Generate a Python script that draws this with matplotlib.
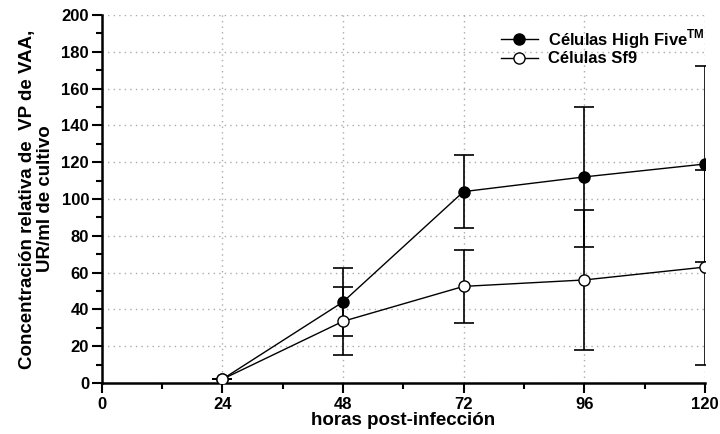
#! /usr/bin/env python3
'''
Concentración relativa de VP de VAA en células High Five y Sf9
'''

import matplotlib
matplotlib.use('Agg')
import matplotlib.pyplot as plt
from matplotlib.ticker import MultipleLocator

hours = [24, 48, 72, 96, 120]
high_five = [2, 44, 104, 112, 119]
high_five_err = [0, 18.5, 20, 38, 53]
sf9 = [2, 33.5, 52.5, 56, 63]
sf9_err = [0, 18.5, 20, 38, 53]
label_high_five = 'Células High Five$^{\\mathbf{TM}}$'
label_sf9 = 'Células Sf9'
xlabel = 'horas post-infección'
ylabel = 'Concentración relativa de  VP de VAA,\nUR/ml de cultivo'


def main():
    plt.rcParams['font.family'] = ['Liberation Sans', 'DejaVu Sans']
    plt.rcParams['font.weight'] = 'bold'
    plt.rcParams['mathtext.fontset'] = 'custom'
    plt.rcParams['mathtext.bf'] = 'Liberation Sans:bold'
    fig = plt.figure(figsize=(7.2, 4.34), dpi=100)
    ax = fig.add_axes([0.141, 0.1175, 0.838, 0.848])

    ax.errorbar(hours, high_five, yerr=high_five_err, color='black',
                marker='o', markersize=8, markerfacecolor='black',
                markeredgecolor='black', linewidth=1.0, elinewidth=1.2,
                capsize=7, capthick=1.2, label=label_high_five, zorder=3)
    ax.errorbar(hours, sf9, yerr=sf9_err, color='black',
                marker='o', markersize=8, markerfacecolor='white',
                markeredgecolor='black', linewidth=1.0, elinewidth=1.2,
                capsize=7, capthick=1.2, label=label_sf9, zorder=4)

    ax.set_xlim(0, 120)
    ax.set_ylim(0, 200)
    ax.xaxis.set_major_locator(MultipleLocator(24))
    ax.xaxis.set_minor_locator(MultipleLocator(12))
    ax.yaxis.set_major_locator(MultipleLocator(20))
    ax.yaxis.set_minor_locator(MultipleLocator(10))
    ax.tick_params(which='major', direction='out', length=7, width=1.5,
                   labelsize=12, pad=3)
    ax.tick_params(axis='y', which='major', pad=2)
    ax.tick_params(which='minor', direction='out', length=4, width=1.5)
    ax.grid(True, which='major', linestyle=(0, (1, 3)), color='#aaaaaa',
            linewidth=1.0)
    ax.set_axisbelow(True)
    for spine in 'right', 'top':
        ax.spines[spine].set_visible(False)
    for spine in 'left', 'bottom':
        ax.spines[spine].set_linewidth(1.8)

    ax.set_xlabel(xlabel, fontsize=13.5, fontweight='bold', labelpad=0)
    ax.set_ylabel(ylabel, fontsize=13.5, fontweight='bold', labelpad=5,
                  linespacing=1.15)

    handles, labels = ax.get_legend_handles_labels()
    handles = [h[0] for h in handles]
    leg = ax.legend(handles, labels, loc='upper right',
                    bbox_to_anchor=(1.013, 0.99), frameon=False,
                    fontsize=12, handlelength=2.2, handletextpad=0.6,
                    labelspacing=0.05, borderaxespad=0.1)
    for t in leg.get_texts():
        t.set_fontweight('bold')

    fig.savefig('out.png', dpi=100)


if __name__ == '__main__':
    main()
